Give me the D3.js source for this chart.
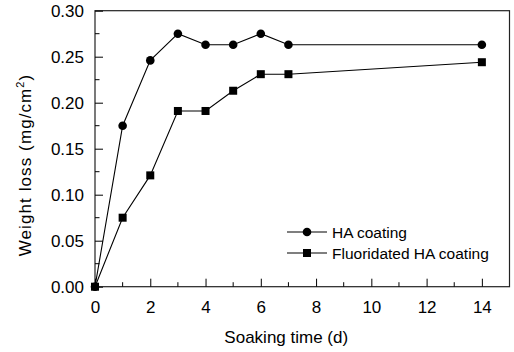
<!DOCTYPE html>
<html><head><meta charset="utf-8">
<script src="https://cdn.jsdelivr.net/npm/d3@7"></script>
<style>body{margin:0;background:#fff}svg{display:block}text{font-family:"Liberation Sans",Arial,sans-serif;fill:#000}</style>
</head><body><svg id="c" width="514" height="352"></svg>
<script>
const days = [0,1,2,3,4,5,6,7,14];
const haCoating = [0,0.175,0.246,0.275,0.263,0.263,0.275,0.263,0.263];
const fluoridatedHA = [0,0.075,0.121,0.191,0.191,0.213,0.231,0.231,0.244];
const seriesNames = ["HA coating","Fluoridated HA coating"];
const xTicks = [0,2,4,6,8,10,12,14];
const yTicks = [0,0.05,0.10,0.15,0.20,0.25,0.30];

const svg = d3.select("#c");
const L=95,R=509.5,T=10.7,B=286.7;
const x = d3.scaleLinear().domain([0,15]).range([L,R]);
const y = d3.scaleLinear().domain([0,0.30]).range([B,T]);

// frame
svg.append("rect").attr("x",L).attr("y",T).attr("width",R-L).attr("height",B-T)
  .attr("fill","none").attr("stroke","#222").attr("stroke-width",1.2);

// x axis
const xMinor = d3.range(1,15,2);
const gx = svg.append("g").attr("transform",`translate(0,${B})`);
gx.call(d3.axisBottom(x).tickValues(xTicks).tickSize(-8).tickPadding(14).tickFormat(d3.format("d")));
gx.select(".domain").remove();
gx.selectAll("text").attr("font-size",17).attr("dy","0.71em");
gx.selectAll("line").attr("stroke","#000");
gx.selectAll(".minor").data(xMinor).enter().append("line").attr("class","minor")
  .attr("x1",d=>x(d)).attr("x2",d=>x(d)).attr("y1",0).attr("y2",-4.5).attr("stroke","#000");

// y axis
const yMinor = d3.range(0.025,0.30,0.05);
const gy = svg.append("g").attr("transform",`translate(${L},0)`);
gy.call(d3.axisLeft(y).tickValues(yTicks).tickSize(-8).tickPadding(11).tickFormat(d3.format(".2f")));
gy.select(".domain").remove();
gy.selectAll("text").attr("font-size",17);
gy.selectAll("line").attr("stroke","#000");
gy.selectAll(".minor").data(yMinor).enter().append("line").attr("class","minor")
  .attr("y1",d=>y(d)).attr("y2",d=>y(d)).attr("x1",0).attr("x2",4.5).attr("stroke","#000");

// titles
svg.append("text").attr("x",(L+R)/2-16).attr("y",343).attr("text-anchor","middle").attr("font-size",17).text("Soaking time (d)");
const yt = svg.append("text").attr("transform","translate(31,165) rotate(-90)").attr("text-anchor","middle")
  .attr("font-size",17).attr("letter-spacing",1.1);
yt.append("tspan").text("Weight loss (mg/cm");
yt.append("tspan").attr("font-size",11).attr("dy",-7).text("2");
yt.append("tspan").attr("dy",7).text(")");

const line = d3.line().x(d=>x(d[0])).y(d=>y(d[1]));
const s1 = days.map((d,i)=>[d,haCoating[i]]);
const s2 = days.map((d,i)=>[d,fluoridatedHA[i]]);

[s1,s2].forEach(s=>svg.append("path").attr("d",line(s)).attr("fill","none").attr("stroke","#000").attr("stroke-width",1.1));

svg.selectAll(".c1").data(s1).enter().append("circle").attr("cx",d=>x(d[0])).attr("cy",d=>y(d[1])).attr("r",4.3).attr("fill","#000");
const sq=8;
svg.selectAll(".s2").data(s2).enter().append("rect").attr("x",d=>x(d[0])-sq/2).attr("y",d=>y(d[1])-sq/2).attr("width",sq).attr("height",sq).attr("fill","#000");

// legend
const lg = [{n:seriesNames[0],t:"c",y:232},{n:seriesNames[1],t:"s",y:253}];
lg.forEach(e=>{
  svg.append("line").attr("x1",287).attr("x2",327).attr("y1",e.y).attr("y2",e.y).attr("stroke","#000").attr("stroke-width",1.1);
  if(e.t==="c") svg.append("circle").attr("cx",307).attr("cy",e.y).attr("r",4.3).attr("fill","#000");
  else svg.append("rect").attr("x",307-sq/2).attr("y",e.y-sq/2).attr("width",sq).attr("height",sq).attr("fill","#000");
  svg.append("text").attr("x",332).attr("y",e.y+5.5).attr("font-size",15.5).text(e.n);
});
</script></body></html>
